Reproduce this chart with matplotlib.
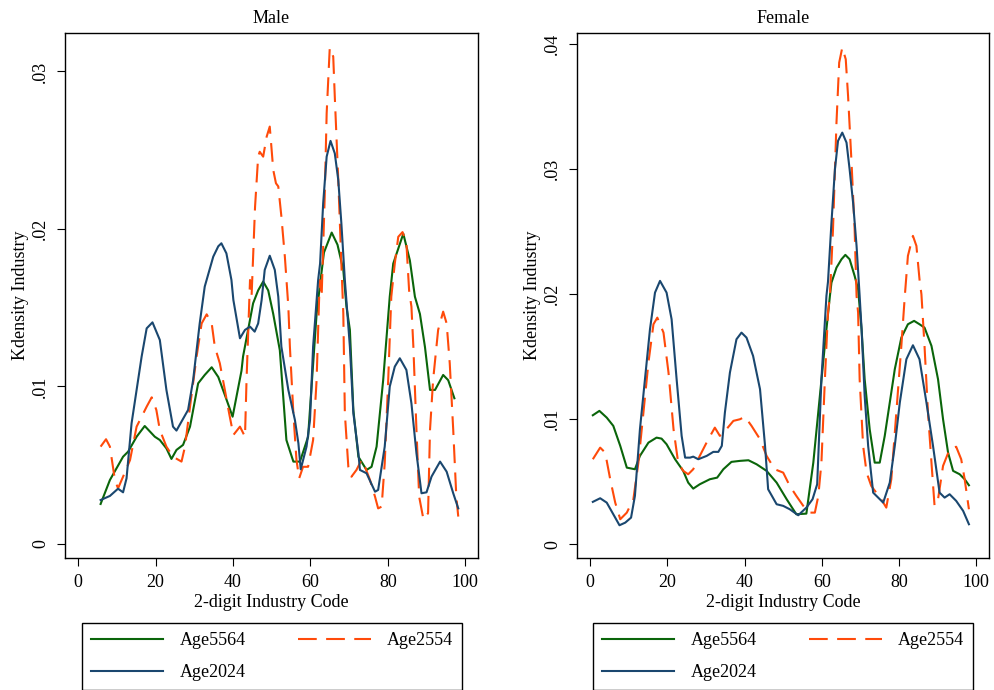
import matplotlib
matplotlib.use("Agg")
import matplotlib.pyplot as plt
from matplotlib.ticker import FixedLocator

plt.rcParams.update({
    "font.family": ["Liberation Serif", "DejaVu Serif"],
    "font.size": 13,
})

# ---- Kdensity by 2-digit industry code (density values) ----
# Male
male_x_5564 = [5.8, 8.2, 11.6, 12.9, 15.1, 17.2, 19.8, 21.1, 22.8, 24.1, 25.4, 27.1,
               28.9, 31.0, 32.7, 34.5, 36.2, 37.9, 39.9, 40.9, 42.2, 42.6, 45.2, 46.5,
               47.8, 49.1, 50.4, 52.1, 53.8, 55.6, 57.3, 59.4, 61.6, 62.5, 63.5, 65.5,
               67.0, 68.5, 69.3, 70.2, 71.1, 72.4, 74.5, 75.8, 77.1, 78.8, 80.5, 81.4,
               84.0, 85.7, 87.0, 88.3, 89.6, 90.9, 92.2, 94.3, 95.6, 97.2]
male_y_5564 = [0.00254, 0.00406, 0.00554, 0.00586, 0.00681, 0.00749, 0.00681, 0.00660,
               0.00607, 0.00540, 0.00597, 0.00629, 0.00745, 0.01020, 0.01073, 0.01122,
               0.01060, 0.00946, 0.00808, 0.00935, 0.01100, 0.01190, 0.01528, 0.01610,
               0.01666, 0.01610, 0.01460, 0.01230, 0.00660, 0.00523, 0.00523, 0.00680,
               0.01460, 0.01650, 0.01850, 0.01977, 0.01900, 0.01740, 0.01510, 0.01360,
               0.00850, 0.00554, 0.00470, 0.00490, 0.00618, 0.01040, 0.01570, 0.01780,
               0.01970, 0.01800, 0.01570, 0.01460, 0.01250, 0.00978, 0.00978, 0.01073,
               0.01040, 0.00925]

male_x_2554 = [5.8, 7.2, 8.2, 9.5, 10.3, 11.6, 13.4, 15.1, 16.4, 17.7, 19.0, 20.2, 21.1,
               22.8, 24.5, 26.7, 27.6, 28.9, 30.6, 31.9, 33.2, 34.5, 35.3, 36.6, 37.9,
               39.0, 40.1, 41.8, 43.1, 43.5, 44.4, 44.8, 45.7, 46.5, 46.9, 47.8, 48.7,
               49.5, 50.4, 51.1, 51.7, 52.5, 53.4, 54.3, 54.7, 55.6, 56.4, 57.1, 58.1,
               59.4, 60.7, 61.6, 62.4, 62.9, 63.7, 64.2, 65.0, 65.9, 66.3, 67.2, 68.0,
               68.5, 68.9, 69.8, 70.6, 71.9, 73.2, 74.1, 75.4, 76.7, 77.5, 78.4, 79.2,
               80.1, 80.9, 81.8, 82.7, 83.8, 84.8, 85.5, 86.1, 86.6, 87.4, 88.1, 89.2,
               90.4, 90.9, 91.7, 93.0, 94.3, 95.2, 96.0, 96.9, 97.7, 98.2]
male_y_2554 = [0.00618, 0.00665, 0.00618, 0.00406, 0.00353, 0.00427, 0.00533, 0.00745,
               0.00808, 0.00872, 0.00931, 0.00851, 0.00724, 0.00618, 0.00554, 0.00523,
               0.00618, 0.00872, 0.01190, 0.01400, 0.01458, 0.01400, 0.01253, 0.01147,
               0.00978, 0.00830, 0.00692, 0.00745, 0.00681, 0.01040, 0.01676, 0.01570,
               0.02140, 0.02459, 0.02490, 0.02459, 0.02586, 0.02650, 0.02375, 0.02290,
               0.02270, 0.02080, 0.01824, 0.01507, 0.01253, 0.00830, 0.00533, 0.00417,
               0.00490, 0.00490, 0.00660, 0.01040, 0.01676, 0.01570, 0.02205, 0.02734,
               0.03150, 0.03094, 0.02840, 0.02311, 0.01780, 0.01465, 0.00830, 0.00490,
               0.00427, 0.00470, 0.00533, 0.00490, 0.00406, 0.00300, 0.00226, 0.00237,
               0.00512, 0.01040, 0.01570, 0.01780, 0.01950, 0.01980, 0.01910, 0.01610,
               0.01507, 0.01253, 0.00724, 0.00300, 0.00157, 0.00195, 0.00724, 0.01040,
               0.01359, 0.01475, 0.01400, 0.01147, 0.00724, 0.00300, 0.00174]

male_x_2024 = [5.8, 8.2, 10.3, 11.6, 12.5, 13.8, 15.1, 16.4, 17.7, 19.2, 21.1, 22.8,
               24.5, 25.4, 26.7, 28.4, 29.7, 31.4, 32.7, 34.9, 36.2, 37.0, 38.3, 39.6,
               40.1, 41.8, 43.1, 44.4, 45.6, 46.5, 47.4, 48.2, 49.5, 50.8, 51.7, 52.5,
               54.3, 56.0, 56.9, 57.5, 59.0, 59.9, 60.7, 62.0, 62.5, 63.3, 64.2, 65.2,
               66.3, 67.2, 68.0, 68.9, 70.2, 71.1, 72.4, 72.8, 74.5, 76.7, 77.5, 79.2,
               80.5, 81.8, 83.1, 84.8, 86.1, 87.4, 88.7, 90.0, 91.3, 93.5, 95.2, 96.9,
               98.2]
male_y_2024 = [0.00279, 0.00305, 0.00351, 0.00328, 0.00417, 0.00766, 0.00978, 0.01190,
               0.01369, 0.01407, 0.01295, 0.00978, 0.00745, 0.00720, 0.00777, 0.00851,
               0.01040, 0.01400, 0.01634, 0.01824, 0.01890, 0.01909, 0.01845, 0.01676,
               0.01549, 0.01306, 0.01359, 0.01380, 0.01348, 0.01400, 0.01549, 0.01740,
               0.01830, 0.01740, 0.01570, 0.01253, 0.00978, 0.00787, 0.00639, 0.00474,
               0.00618, 0.00787, 0.01253, 0.01676, 0.01780, 0.02163, 0.02459, 0.02559,
               0.02480, 0.02311, 0.02036, 0.01676, 0.01253, 0.00830, 0.00576, 0.00470,
               0.00449, 0.00332, 0.00343, 0.00618, 0.00999, 0.01126, 0.01179, 0.01105,
               0.00893, 0.00576, 0.00322, 0.00328, 0.00428, 0.00523, 0.00459, 0.00322,
               0.00226]

# Female
female_x_5564 = [0.7, 2.4, 4.3, 6.0, 7.8, 9.5, 11.6, 12.9, 15.1, 17.2, 18.5, 19.8, 22.0,
                 24.1, 25.4, 26.7, 28.4, 31.0, 32.9, 34.5, 36.6, 38.8, 41.0, 43.1, 45.7,
                 48.3, 50.9, 53.4, 56.0, 57.8, 59.5, 61.2, 62.1, 62.5, 63.8, 65.1, 66.1,
                 67.2, 68.5, 69.4, 70.3, 71.1, 72.4, 73.7, 75.0, 76.3, 77.6, 78.9, 80.6,
                 82.3, 83.9, 85.3, 86.6, 88.4, 90.1, 91.4, 92.7, 94.0, 95.7, 97.0, 98.1]
female_y_5564 = [0.01032, 0.01067, 0.01013, 0.00947, 0.00787, 0.00613, 0.00600, 0.00707,
                 0.00813, 0.00853, 0.00845, 0.00800, 0.00680, 0.00587, 0.00493, 0.00445,
                 0.00480, 0.00520, 0.00533, 0.00600, 0.00659, 0.00667, 0.00672, 0.00640,
                 0.00587, 0.00493, 0.00360, 0.00240, 0.00245, 0.00653, 0.01187, 0.01720,
                 0.01987, 0.02093, 0.02213, 0.02280, 0.02315, 0.02280, 0.02147, 0.02040,
                 0.01720, 0.01320, 0.00920, 0.00653, 0.00653, 0.00867, 0.01133, 0.01400,
                 0.01653, 0.01760, 0.01787, 0.01760, 0.01733, 0.01587, 0.01320, 0.01000,
                 0.00733, 0.00587, 0.00560, 0.00520, 0.00472]

female_x_2554 = [0.7, 2.6, 3.9, 5.2, 6.5, 7.8, 9.5, 11.2, 12.5, 13.8, 15.1, 16.4, 17.4,
                 19.0, 20.3, 21.6, 22.8, 24.1, 25.4, 26.7, 28.4, 30.6, 32.3, 33.6, 35.3,
                 37.1, 38.8, 40.1, 41.8, 44.0, 45.7, 47.8, 50.0, 51.7, 53.4, 55.2, 56.9,
                 58.2, 59.1, 59.9, 60.8, 61.6, 62.1, 62.9, 63.8, 64.5, 65.3, 66.2, 66.8,
                 67.7, 68.5, 69.0, 69.4, 69.8, 70.7, 71.6, 72.8, 74.1, 75.4, 76.7, 78.0,
                 79.3, 80.6, 81.5, 82.3, 83.6, 84.5, 85.3, 85.8, 86.6, 87.5, 88.4, 89.2,
                 90.1, 91.4, 93.1, 94.8, 96.1, 97.0, 98.1]
female_y_2554 = [0.00680, 0.00773, 0.00733, 0.00520, 0.00333, 0.00200, 0.00253, 0.00360,
                 0.00653, 0.01053, 0.01453, 0.01760, 0.01813, 0.01693, 0.01373, 0.00920,
                 0.00653, 0.00587, 0.00560, 0.00600, 0.00707, 0.00840, 0.00933, 0.00867,
                 0.00920, 0.00987, 0.01000, 0.01020, 0.00947, 0.00840, 0.00707, 0.00600,
                 0.00573, 0.00467, 0.00387, 0.00307, 0.00253, 0.00253, 0.00387, 0.00653,
                 0.01320, 0.01853, 0.01987, 0.02520, 0.03373, 0.03853, 0.03973, 0.03880,
                 0.03587, 0.03053, 0.02520, 0.01987, 0.01853, 0.01320, 0.00787, 0.00573,
                 0.00467, 0.00413, 0.00360, 0.00293, 0.00520, 0.01053, 0.01587, 0.01987,
                 0.02307, 0.02467, 0.02387, 0.02120, 0.02000, 0.01587, 0.01053, 0.00653,
                 0.00307, 0.00360, 0.00627, 0.00760, 0.00780, 0.00680, 0.00520, 0.00280]

female_x_2024 = [0.7, 2.6, 4.3, 6.0, 7.6, 9.1, 10.6, 11.6, 12.9, 14.2, 15.5, 16.8, 18.1,
                 19.8, 21.1, 22.4, 23.7, 24.6, 25.9, 26.7, 28.0, 30.2, 31.9, 33.2, 34.1,
                 34.9, 36.2, 37.9, 39.2, 40.5, 42.2, 44.0, 45.3, 46.1, 48.3, 50.0, 51.7,
                 53.9, 56.0, 57.6, 58.8, 59.9, 61.2, 61.6, 62.5, 63.4, 64.2, 65.3, 66.4,
                 67.2, 68.1, 69.0, 69.8, 70.3, 71.1, 72.0, 73.3, 74.6, 75.9, 77.6, 78.9,
                 80.2, 81.9, 83.6, 85.3, 87.1, 88.8, 90.5, 91.8, 93.1, 94.8, 96.6, 98.1]
female_y_2024 = [0.00339, 0.00368, 0.00333, 0.00240, 0.00152, 0.00173, 0.00213, 0.00387,
                 0.00920, 0.01320, 0.01720, 0.02013, 0.02107, 0.02013, 0.01800, 0.01320,
                 0.00867, 0.00693, 0.00693, 0.00701, 0.00680, 0.00707, 0.00739, 0.00739,
                 0.00787, 0.01053, 0.01373, 0.01640, 0.01693, 0.01653, 0.01507, 0.01240,
                 0.00787, 0.00440, 0.00320, 0.00307, 0.00280, 0.00232, 0.00293, 0.00360,
                 0.00480, 0.01320, 0.01987, 0.02100, 0.02573, 0.03000, 0.03227, 0.03293,
                 0.03213, 0.03000, 0.02733, 0.02387, 0.01987, 0.01720, 0.01187, 0.00787,
                 0.00413, 0.00373, 0.00333, 0.00493, 0.00787, 0.01133, 0.01480, 0.01592,
                 0.01480, 0.01133, 0.00787, 0.00413, 0.00373, 0.00400, 0.00347, 0.00267,
                 0.00160]

male_yticks = [0, 0.01, 0.02, 0.03]
female_yticks = [0, 0.01, 0.02, 0.03, 0.04]
xticks = [0, 20, 40, 60, 80, 100]

GREEN = "#0a650a"
ORANGE = "#ff4a0a"
NAVY = "#1a476f"


def fmt_tick(v):
    return "0" if v == 0 else f"{v:.2f}".lstrip("0")


def draw_panel(ax, title, series, yticks, ylim):
    (x5564, y5564), (x2554, y2554), (x2024, y2024) = series
    l1, = ax.plot(x5564, y5564, color=GREEN, lw=1.5, label="Age5564")
    l2, = ax.plot(x2554, y2554, color=ORANGE, lw=1.5, dashes=(9, 4.5), label="Age2554")
    l3, = ax.plot(x2024, y2024, color=NAVY, lw=1.5, label="Age2024")

    ax.set_xlim(-3.4, 103.3)
    ax.set_ylim(*ylim)
    ax.xaxis.set_major_locator(FixedLocator(xticks))
    ax.set_yticks(yticks)
    ax.set_yticklabels([fmt_tick(v) for v in yticks], rotation=90, va="center")
    ax.tick_params(length=5.5, width=0.8, direction="out", pad=6)
    for sp in ax.spines.values():
        sp.set_linewidth(1.0)

    ax.set_title(title, fontsize=13, pad=7)
    ax.set_xlabel("2-digit Industry Code", labelpad=2)
    ax.set_ylabel("Kdensity Industry", labelpad=2)
    return [l1, l3, l2]


fig = plt.figure(figsize=(9.94, 6.9), dpi=100)
ax_m = fig.add_axes([65 / 994, 1 - 558 / 690, 413 / 994, 525 / 690])
ax_f = fig.add_axes([577 / 994, 1 - 558 / 690, 412 / 994, 525 / 690])

h_m = draw_panel(ax_m, "Male",
                 [(male_x_5564, male_y_5564), (male_x_2554, male_y_2554),
                  (male_x_2024, male_y_2024)],
                 male_yticks, (-0.00089, 0.03244))
h_f = draw_panel(ax_f, "Female",
                 [(female_x_5564, female_y_5564), (female_x_2554, female_y_2554),
                  (female_x_2024, female_y_2024)],
                 female_yticks, (-0.0011, 0.0409))

# legend boxes below each panel
for ax, handles, x0 in [(ax_m, h_m, 73), (ax_f, h_f, 584)]:
    leg = ax.legend(handles=handles, ncol=2, mode="expand",
                    loc="upper left",
                    bbox_to_anchor=(x0 / 994, 1 - 614 / 690, 398 / 994, 0.0),
                    bbox_transform=fig.transFigure,
                    fancybox=False, framealpha=1, edgecolor="black",
                    handlelength=4.0, handletextpad=0.9, labelspacing=0.82,
                    borderpad=0.5, fontsize=13, columnspacing=2.0)
    leg.get_frame().set_linewidth(1.0)

fig.savefig("out.png", dpi=100)
